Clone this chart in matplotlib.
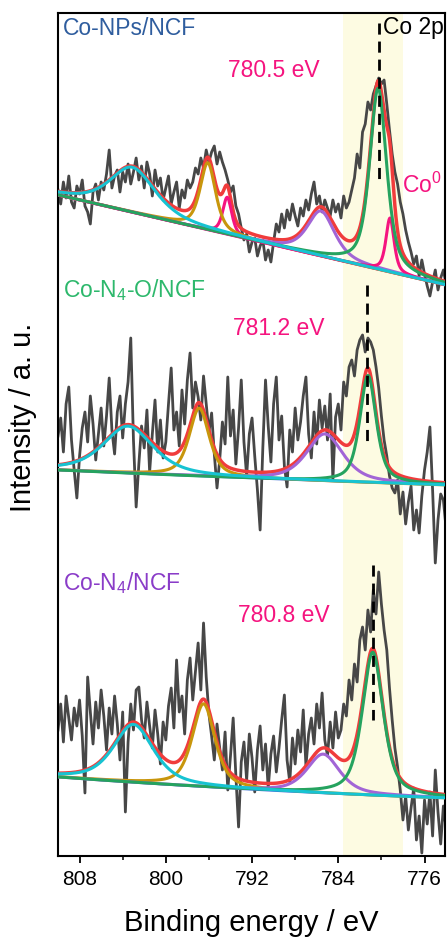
import numpy as np
import matplotlib
matplotlib.use('Agg')
import matplotlib.pyplot as plt

plt.rcParams['font.family'] = ['Liberation Sans', 'DejaVu Sans']
plt.rcParams['mathtext.fontset'] = 'custom'
plt.rcParams['mathtext.rm'] = 'Liberation Sans'
plt.rcParams['mathtext.it'] = 'Liberation Sans:italic'

# ---------------- data ----------------
energy = np.round(np.arange(810.0, 773.99, -0.25), 2)   # binding energy grid (eV)

top_counts = [110, 96, 118, 102, 124, 98, 92, 114, 106, 120,
              94, 88, 76, 108, 116, 100, 118, 110, 126, 150,
              112, 124, 130, 108, 128, 118, 136, 116, 128, 142,
              120, 134, 112, 138, 126, 104, 130, 114, 122, 100,
              112, 124, 96, 108, 118, 92, 110, 102, 120, 112,
              118, 132, 126, 142, 132, 150, 138, 148, 154, 136,
              148, 138, 130, 120, 108, 114, 94, 86, 72, 60,
              66, 48, 58, 62, 44, 54, 60, 40, 50, 38,
              58, 76, 68, 86, 72, 90, 80, 96, 84, 74,
              92, 84, 100, 90, 106, 118, 96, 104, 88, 100,
              92, 84, 100, 88, 96, 82, 104, 92, 98, 110,
              122, 146, 132, 168, 176, 198, 190, 206, 214, 222,
              216, 220, 196, 170, 146, 128, 116, 98, 86, 70,
              58, 48, 36, 44, 24, 40, 26, 14, 4, 18,
              30, 10, 22, 30, 16]

mid_counts = [64, 82, 48, 96, 113, 60, 30, 2, 44, 72,
              88, 58, 104, 76, 40, 66, 92, 54, 84, 122,
              70, 46, 88, 104, 62, 96, 118, 162, 60, -7,
              36, 74, 52, 90, 28, 66, 100, 48, 80, 42,
              58, 96, 132, 70, 88, 54, 110, 76, 120, 147,
              92, 118, 103, 80, 124, 96, 68, 87, 46, 12,
              40, 78, 56, 123, 64, 90, 36, 72, 120, 58,
              24, 66, 82, 44, 10, -30, 52, 120, 74, 38,
              96, 123, 60, 84, 34, 13, 70, 48, 92, 60,
              78, 104, 123, 66, 42, 88, 56, 100, 72, 94,
              60, 106, 20, 83, 96, 70, 118, 104, 133, 140,
              124, 150, 160, 165, 148, 162, 158, 150, 133, 112,
              84, 60, 44, 24, 12, 7, 20, -14, 8, -24,
              -2, 14, -30, -10, -33, 4, 30, 48, 73, 10,
              -63, -20, 6, 0, -28]

bot_counts = [70, 96, 58, 104, 82, 60, 92, 74, 100, 64,
              7, 123, 88, 56, 98, 72, 110, 84, 50, 92,
              66, 104, 76, 40, 88, -12, 58, 96, 70, 110,
              113, 80, 62, 98, 74, 52, 90, 66, 36, 78,
              60, 94, 112, 72, 140, 88, 104, 66, 120, 142,
              100, 128, 157, 110, 177, 123, 86, 64, 40, 76,
              52, 30, 68, 10, 44, 82, 24, -27, 38, 58,
              20, 66, 42, 8, 50, 74, 30, 56, 12, 46,
              64, 28, 52, 80, 105, 40, 18, 62, 36, 70,
              48, 90, 34, 66, 82, 56, 96, 72, 107, 60,
              44, 78, 52, 88, 62, 70, 96, 84, 120, 100,
              136, 118, 160, 173, 150, 190, 168, 210, 186, 228,
              196, 170, 150, 112, 80, 52, 33, 10, -20, 4,
              -30, -8, 12, -40, -16, -53, 0, -24, 8, -36,
              30, -12, -44, -6, -28]

sample_names = ['Co-NPs/NCF', 'Co-N$_4$-O/NCF', 'Co-N$_4$/NCF']
sample_colors = ['#2F5D9E', '#2DB86C', '#8A3CC8']
offsets = [556, 356, 56]

# background knots: energies and values for each spectrum
bg_energy = [810.0, 787.6, 774.0]
bg_values = [[105, 49, 15], [30, 20, 15], [23, 8, 2]]

# fitted components: (colour key, centre eV, height, FWHM eV)
top_peaks = [('pink', 794.3, 37, 1.0), ('gold', 796.1, 67, 1.7),
             ('purple', 785.6, 45, 3.0), ('pink', 779.2, 54, 0.9),
             ('green', 780.3, 181, 1.85), ('cyan', 803.1, 45, 5.0)]
mid_peaks = [('gold', 796.9, 68, 2.2), ('purple', 785.25, 47, 4.0),
             ('green', 781.24, 107, 1.8), ('cyan', 803.5, 47, 5.5)]
bot_peaks = [('gold', 796.5, 83, 2.5), ('purple', 785.4, 39, 3.6),
             ('green', 780.8, 143, 2.3), ('cyan', 803.0, 58, 4.4)]

peak_energy_labels = ['780.5 eV', '781.2 eV', '780.8 eV']
marker_energy = [780.2, 781.3, 780.8]
marker_span = [(277, 117), (215, 58), (235, 80)]

colors = {'pink': '#F5147F', 'gold': '#C8960C', 'purple': '#A265D6',
          'green': '#25A35F', 'cyan': '#17C3D2', 'red': '#F03C3C',
          'base': '#3B6FD6', 'data': '#474747'}

ETA = 0.6


def pvoigt(x, c, h, w):
    g = np.exp(-4 * np.log(2) * ((x - c) / w) ** 2)
    l = 1.0 / (1.0 + 4 * ((x - c) / w) ** 2)
    return h * (ETA * l + (1 - ETA) * g)


# ---------------- figure ----------------
fig = plt.figure(figsize=(4.47, 9.38), dpi=100)
ax = fig.add_axes([58 / 447, 82 / 938, 387 / 447, 843 / 938])

ax.axvspan(783.6, 778.0, color='#FDFBE2', zorder=0, lw=0)

fine = np.linspace(810, 774, 721)
all_counts = [top_counts, mid_counts, bot_counts]
all_peaks = [top_peaks, mid_peaks, bot_peaks]

for k in range(3):
    off = offsets[k]
    ax.plot(energy, np.array(all_counts[k]) + off, color=colors['data'],
            lw=2.0, zorder=2)
    coef = np.polyfit(bg_energy, bg_values[k], 2)
    bg = np.polyval(coef, fine)
    comps = [(col, pvoigt(fine, c, h, w)) for col, c, h, w in all_peaks[k]]
    env = bg + sum(p for _, p in comps)
    ax.plot(fine, env + off, color=colors['red'], lw=2.5, zorder=3)
    ax.plot(fine, bg + off, color=colors['base'], lw=1.6, zorder=3.5)
    for col, p in comps:
        ax.plot(fine, bg + p + off, color=colors[col], lw=2.2, zorder=4)
    y0, y1 = marker_span[k]
    ax.plot([marker_energy[k]] * 2, [y0 + off, y1 + off], color='black',
            lw=2.0, ls=(0, (4, 2.5)), zorder=6)

# labels
ax.text(809.55, 828, sample_names[0], color=sample_colors[0], fontsize=16.5,
        ha='left', va='center')
ax.text(809.55, 566, sample_names[1], color=sample_colors[1], fontsize=16.5,
        ha='left', va='center')
ax.text(809.55, 273, sample_names[2], color=sample_colors[2], fontsize=16.5,
        ha='left', va='center')
ax.text(794.24, 786, peak_energy_labels[0], color='#F5147F', fontsize=16.5,
        ha='left', va='center')
ax.text(793.78, 528, peak_energy_labels[1], color='#F5147F', fontsize=16.5,
        ha='left', va='center')
ax.text(793.32, 241, peak_energy_labels[2], color='#F5147F', fontsize=16.5,
        ha='left', va='center')
ax.text(779.85, 829, 'Co 2p', color='black', fontsize=16.5, ha='left',
        va='center', zorder=7)
ax.text(778.05, 671, 'Co$^0$', color='#F5147F', fontsize=16.5, ha='left',
        va='center')

ax.set_xlim(810, 774.1)
ax.set_ylim(0, 843)
ax.set_xticks([808, 800, 792, 784, 776])
ax.set_xticks([804, 796, 788, 780], minor=True)
ax.set_yticks([])
ax.tick_params(axis='x', which='major', direction='out', length=5, width=1.3,
               labelsize=15, pad=5)
ax.tick_params(axis='x', which='minor', direction='out', length=3, width=1.1)
for s in ax.spines.values():
    s.set_linewidth(1.5)

ax.set_xlabel('Binding energy / eV', fontsize=21)
ax.set_ylabel('Intensity / a. u.', fontsize=21)
ax.xaxis.set_label_coords(0.5, -0.063)
ax.yaxis.set_label_coords(-0.055, 0.52)

fig.savefig('out.png', dpi=100)
